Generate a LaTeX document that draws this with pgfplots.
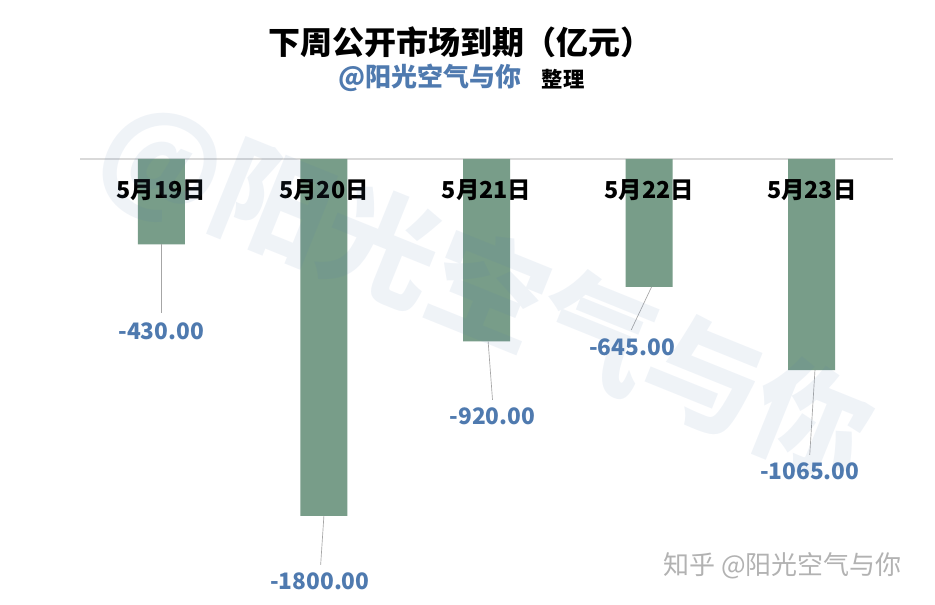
\documentclass[border=0pt]{standalone}
\usepackage{fontspec}
\usepackage{pgfplots}
\pgfplotsset{compat=1.18}
\setmainfont{Noto Sans CJK SC}
\definecolor{barcol}{HTML}{789D89}
\definecolor{lblblue}{HTML}{4F7AAF}
\definecolor{zeroline}{HTML}{D9D9D9}

\begin{document}
\begin{tikzpicture}
% canvas 935x604 px, 1px = 0.75pt
\useasboundingbox (0pt,0pt) rectangle (701.25pt,453pt);
\fill[white] (0pt,0pt) rectangle (701.25pt,453pt);
% title
\node[font=\fontsize{24}{24}\selectfont\bfseries] at (345pt,421.5pt) {下周公开市场到期（亿元）};
\node[font=\fontsize{19.5}{19.5}\selectfont\bfseries, text=lblblue] at (322.5pt,394.5pt) {@阳光空气与你};
\node[font=\fontsize{16}{16}\selectfont\bfseries] at (422.25pt,393.5pt) {整理};
\node[font=\fontsize{19.5}{19.5}\selectfont, text=black!30] at (587pt,28.5pt) {知乎 @阳光空气与你};

\begin{axis}[
    at={(60pt,36.3pt)}, anchor=south west,
    scale only axis,
    width=609.75pt, height=297.45pt,
    ybar, bar width=35.25pt,
    xmin=-0.5, xmax=4.5,
    ymin=-2000, ymax=0,
    axis x line*=top,
    axis y line=none,
    x axis line style={draw=zeroline, line width=0.8pt, -},
    xtick=\empty, ytick=\empty,
    clip=false,
]
\addplot[fill=barcol, draw=none] coordinates {(0,-430) (1,-1800) (2,-920) (3,-645) (4,-1065)};

\begin{scope}[font=\fontsize{17.5}{17.5}\selectfont\bfseries]
\node at (axis cs:0,-156) {5月19日};
\node at (axis cs:1,-156) {5月20日};
\node at (axis cs:2,-156) {5月21日};
\node at (axis cs:3,-156) {5月22日};
\node at (axis cs:4,-156) {5月23日};
\end{scope}

\begin{scope}[gray!70, line width=0.5pt]
\draw (axis cs:0,-430) -- (axis cs:0,-776);
\draw (axis cs:1,-1800) -- (axis cs:0.98,-2047);
\draw (axis cs:2.01,-920) -- (axis cs:2.037,-1215);
\draw (axis cs:3.015,-645) -- (axis cs:2.89,-862);
\draw (axis cs:4.02,-1065) -- (axis cs:3.988,-1492);
\end{scope}

\begin{scope}[font=\fontsize{17}{17}\selectfont\bfseries, text=lblblue]
\node at (axis cs:0,-867) {-430.00};
\node at (axis cs:0.975,-2128) {-1800.00};
\node at (axis cs:2.037,-1296) {-920.00};
\node at (axis cs:2.895,-948) {-645.00};
\node at (axis cs:3.988,-1573) {-1065.00};
\end{scope}
\end{axis}
% watermark, faint, over everything
\node[rotate=-22, text=lblblue, text opacity=0.09, font=\fontsize{87}{87}\selectfont\bfseries] at (363.75pt,233.25pt) {@阳光空气与你};
\end{tikzpicture}
\end{document}
